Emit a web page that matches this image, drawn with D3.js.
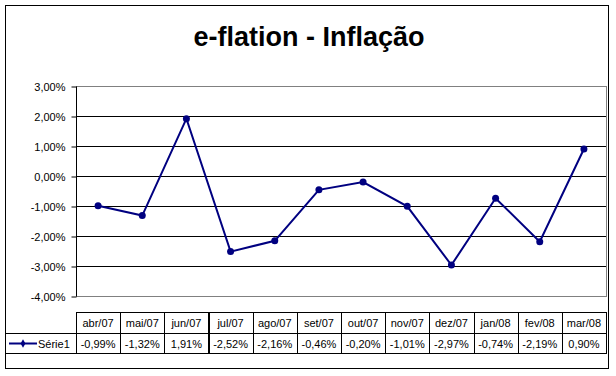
<!DOCTYPE html>
<html>
<head>
<meta charset="utf-8">
<script src="https://cdn.jsdelivr.net/npm/d3@7"></script>
<style>
  html, body { margin: 0; padding: 0; background: #fff; }
  svg { display: block; }
  text { font-family: Arial, "Liberation Sans", sans-serif; }
</style>
</head>
<body>
<svg id="chart" width="616" height="376"></svg>
<script>
const titleText = "e-flation - Inflação";
const seriesName = "Série1";
const categories = ["abr/07","mai/07","jun/07","jul/07","ago/07","set/07","out/07","nov/07","dez/07","jan/08","fev/08","mar/08"];
const values = [-0.99, -1.32, 1.91, -2.52, -2.16, -0.46, -0.20, -1.01, -2.97, -0.74, -2.19, 0.90];
const valueLabels = ["-0,99%","-1,32%","1,91%","-2,52%","-2,16%","-0,46%","-0,20%","-1,01%","-2,97%","-0,74%","-2,19%","0,90%"];
const yTicks = [3, 2, 1, 0, -1, -2, -3, -4];

(function () {
const svg = d3.select("#chart");
const navy = "#000080";

// outer frame
svg.append("rect").attr("x", 5.5).attr("y", 5.5).attr("width", 603).attr("height", 363)
  .attr("fill", "#fff").attr("stroke", "#000").attr("stroke-width", 1);

// title
svg.append("text").attr("x", 309).attr("y", 46).attr("text-anchor", "middle")
  .attr("font-size", 27).attr("font-weight", "bold").text(titleText);

const pLeft = 76, pRight = 606, pTop = 86, pBottom = 296;
const x = d3.scaleBand().domain(categories).range([pLeft, pRight]);
const y = d3.scaleLinear().domain([-4, 3]).range([pBottom, pTop]);
const fmt = v => d3.format(".2f")(v).replace(".", ",").replace("\u2212", "-") + "%";

// gridlines
svg.append("g").selectAll("line").data(yTicks.filter(t => t < 3)).join("line")
  .attr("x1", pLeft).attr("x2", pRight)
  .attr("y1", d => Math.round(y(d)) + 0.5).attr("y2", d => Math.round(y(d)) + 0.5)
  .attr("stroke", "#000");

// plot border (gray)
svg.append("rect").attr("x", pLeft + 0.5).attr("y", pTop + 0.5)
  .attr("width", pRight - pLeft).attr("height", pBottom - pTop)
  .attr("fill", "none").attr("stroke", "#808080");

// y axis
const yAxis = d3.axisLeft(y).tickValues(yTicks).tickSize(5).tickPadding(6).tickFormat(fmt);
const ga = svg.append("g").attr("transform", `translate(${pLeft + 0.5},0.5)`).call(yAxis);
ga.select(".domain").attr("stroke", "#000").attr("d", `M0,${pTop}V${pBottom}`);
ga.selectAll(".tick line").attr("stroke", "#000");
ga.selectAll(".tick text").attr("font-size", 11).attr("font-family", "Arial, 'Liberation Sans', sans-serif").attr("fill", "#000");

// line
const line = d3.line().x((d, i) => x(categories[i]) + x.bandwidth() / 2).y(d => y(d));
svg.append("path").datum(values).attr("d", line)
  .attr("fill", "none").attr("stroke", navy).attr("stroke-width", 2);
svg.append("g").selectAll("circle").data(values).join("circle")
  .attr("cx", (d, i) => x(categories[i]) + x.bandwidth() / 2)
  .attr("cy", d => y(d)).attr("r", 3.5).attr("fill", navy);

// data table
const r1 = 312, r2 = 333, r3 = 353;
const tbl = svg.append("g");
categories.forEach((c, i) => {
  const x0 = Math.round(x(c)) + 0.5, w = x.bandwidth();
  const cw = Math.round(x(c) + w) - Math.round(x(c));
  tbl.append("rect").attr("x", x0).attr("y", r1 + 0.5).attr("width", cw).attr("height", r2 - r1)
    .attr("fill", "none").attr("stroke", "#000");
  tbl.append("rect").attr("x", x0).attr("y", r2 + 0.5).attr("width", cw).attr("height", r3 - r2)
    .attr("fill", "none").attr("stroke", "#000");
  tbl.append("text").attr("x", x(c) + w / 2).attr("y", (r1 + r2) / 2 + 1).attr("dy", "0.35em")
    .attr("text-anchor", "middle").attr("font-size", 11).text(c);
  tbl.append("text").attr("x", x(c) + w / 2).attr("y", (r2 + r3) / 2 + 1).attr("dy", "0.35em")
    .attr("text-anchor", "middle").attr("font-size", 11).text(valueLabels[i]);
});
// legend cell
tbl.append("rect").attr("x", 5.5).attr("y", r2 + 0.5).attr("width", pLeft - 5).attr("height", r3 - r2)
  .attr("fill", "none").attr("stroke", "#000");
const ly = (r2 + r3) / 2 + 0.5;
tbl.append("line").attr("x1", 9).attr("x2", 37).attr("y1", ly).attr("y2", ly).attr("stroke", navy).attr("stroke-width", 2);
tbl.append("path").attr("d", d3.symbol(d3.symbolDiamond, 20)()).attr("transform", `translate(23,${ly})`).attr("fill", navy);
tbl.append("text").attr("x", 38).attr("y", (r2 + r3) / 2 + 1).attr("dy", "0.35em")
  .attr("font-size", 11).text(seriesName);
})();
</script>
</body>
</html>
